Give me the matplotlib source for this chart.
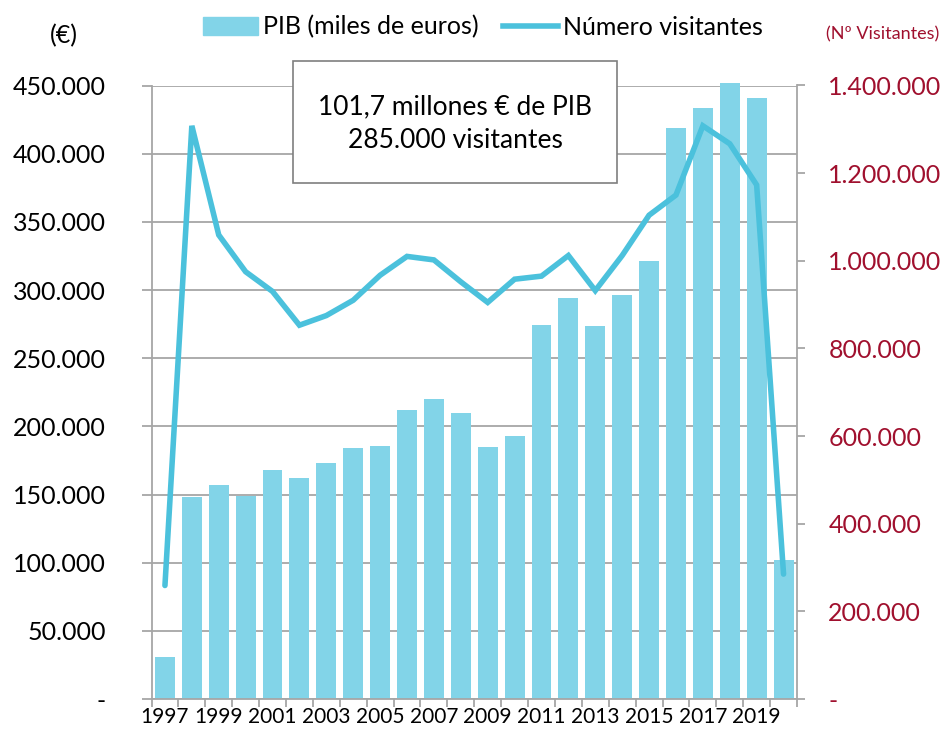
import numpy as np
import matplotlib
matplotlib.use("Agg")
import matplotlib.pyplot as plt
from matplotlib.lines import Line2D
from matplotlib.patches import Patch, Rectangle

# datos
years = list(range(1997, 2021))
pib = [31100, 147800, 157100, 148700, 168100, 162300, 172800, 184100, 185500,
       211700, 220100, 209900, 185200, 193100, 274100, 294400, 273800, 296500,
       321100, 419000, 433800, 452100, 440800, 101700]
visitantes = [259000, 1308000, 1059000, 975000, 930000, 853000, 875000, 910000,
              967000, 1010000, 1002000, 952000, 905000, 958000, 965000, 1012000,
              932000, 1012000, 1104000, 1150000, 1308000, 1267000, 1173000, 285000]
left_ticks = list(range(0, 450001, 50000))
right_ticks = list(range(0, 1400001, 200000))

plt.rcParams['font.family'] = ['Lato', 'DejaVu Sans']

bar_color = '#82D4E8'
line_color = '#4BC1DC'
red = '#A0102E'
grid_color = '#A6A6A6'
W, H = 949, 740


def fmt(v):
    return '-' if v == 0 else f'{v:,}'.replace(',', '.')


fig = plt.figure(figsize=(W / 100, H / 100), dpi=100)
ax = fig.add_axes([151.5 / W, 1 - 699 / H, (797 - 151.5) / W, (699 - 85.5) / H])
x = np.arange(len(years))

ax.bar(x, pib, width=0.74, color=bar_color, zorder=2, clip_on=False)
ax.set_xlim(-0.5, len(years) - 0.5)
ax.set_ylim(0, 450000)
ax.set_yticks(left_ticks)
ax.set_yticklabels([fmt(v) for v in left_ticks], fontsize=18)
ax.yaxis.grid(True, color=grid_color, lw=1.3, zorder=0)
ax.set_axisbelow(True)

ax.set_xticks(x[::2])
ax.set_xticklabels([str(y) for y in years[::2]], fontsize=15)
ax.set_xticks(np.arange(-0.5, len(years)), minor=True)
ax.tick_params(axis='x', which='major', length=0, pad=6)
ax.tick_params(axis='x', which='minor', length=6, color=grid_color, width=1.3)
ax.tick_params(axis='y', length=7, color=grid_color, width=1.3, pad=26)
for s in ['top', 'right']:
    ax.spines[s].set_visible(False)
for s in ['left', 'bottom']:
    ax.spines[s].set_color(grid_color)
    ax.spines[s].set_linewidth(1.3)

ax2 = ax.twinx()
ax2.plot(x, visitantes, color=line_color, lw=4, solid_capstyle='round',
         solid_joinstyle='miter', zorder=3)
ax2.set_ylim(0, 1400000)
ax2.set_yticks(right_ticks)
ax2.set_yticklabels([fmt(v) for v in right_ticks], fontsize=18, color=red)
ax2.tick_params(axis='y', length=6, color=grid_color, width=1.3, pad=16.5)
for s in ['top', 'left', 'bottom']:
    ax2.spines[s].set_visible(False)
ax2.spines['right'].set_color(grid_color)
ax2.spines['right'].set_linewidth(1.3)

# cuadro de texto
fig.add_artist(Rectangle((293 / W, 1 - 183 / H), (617 - 293) / W, (183 - 61) / H,
                         transform=fig.transFigure, fc='white', ec='#7F7F7F',
                         lw=1.2, zorder=10))
fig.text(455 / W, 1 - 114 / H, '101,7 millones € de PIB', ha='center',
         va='baseline', fontsize=19, zorder=11)
fig.text(455 / W, 1 - 148 / H, '285.000 visitantes', ha='center',
         va='baseline', fontsize=19, zorder=11)

handles = [Patch(color=bar_color), Line2D([0], [0], color=line_color, lw=4)]
fig.legend(handles, ['PIB (miles de euros)', 'Número visitantes'], loc='center',
           bbox_to_anchor=(483 / W, 1 - 27 / H), ncol=2, frameon=False,
           fontsize=18, handlelength=2.2, columnspacing=1.0, handletextpad=0.2,
           borderpad=0, borderaxespad=0)

fig.text(64 / W, 1 - 36 / H, '(€)', ha='center', va='center', fontsize=18)
fig.text(883 / W, 1 - 34 / H, '(Nº Visitantes)', ha='center', va='center',
         fontsize=13, color=red)

fig.savefig('out.png', dpi=100)
